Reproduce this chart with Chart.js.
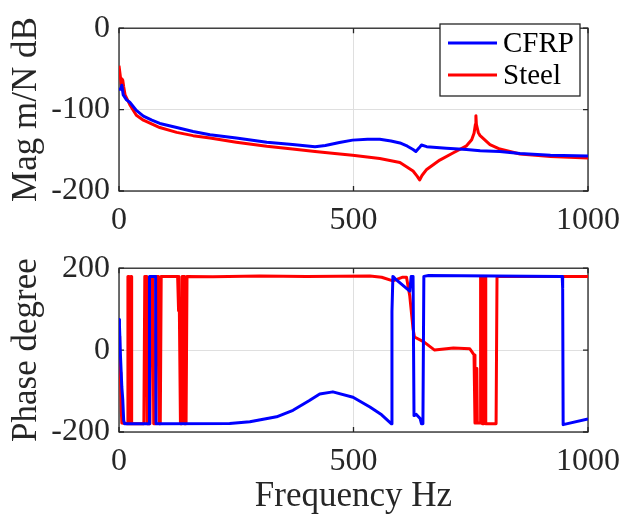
<!DOCTYPE html>
<html>
<head>
<meta charset="utf-8">
<script src="https://cdn.jsdelivr.net/npm/chart.js@4.4.1/dist/chart.umd.min.js"></script>
<style>
  body { margin: 0; background: #fff; }
  canvas { display: block; }
  #warm { height: 0; overflow: hidden; font: 32px 'Liberation Serif'; color: #fff; }
</style>
</head>
<body>
<div id="warm">Mag m/N dB Phase degree Frequency Hz CFRP Steel -200 0 500 1000</div>
<canvas id="mag" width="640" height="240"></canvas>
<canvas id="phase" width="640" height="278"></canvas>
<script>
// Frequency response of the two shafts.
const seriesNames = ['CFRP', 'Steel'];

const freqTicks = [0, 500, 1000];
const magTicks = [-200, -100, 0];
const phaseTicks = [-200, 0, 200];

// magnitude, dB
const cfrpMagHz = [0, 4, 6, 9, 16, 23, 37, 52, 70, 87, 123, 158, 194, 250, 315, 370, 418, 440, 470, 498,
  530, 556, 580, 599, 615, 627, 633, 640, 645, 656, 698, 741, 770, 812, 855, 920, 1000];
const cfrpMagDb = [-75, -75, -70, -82, -88, -91, -101, -108, -113, -117, -122, -127, -131, -135, -140, -143, -145.5, -144, -140.5, -137.5,
  -136.5, -136.5, -138.5, -141, -145, -149, -151.5, -147, -143.5, -145.5, -147.5, -149, -150.5, -151.5, -154, -156, -157];

const steelMagHz = [0, 3, 5, 6, 8, 10, 13, 23, 37, 52, 87, 123, 158, 194, 250, 315, 370, 418, 460, 498,
  556, 599, 627, 636, 641, 646, 656, 684, 713, 741, 752, 757, 760, 761, 762, 766, 770, 791, 812, 855,
  920, 1000];
const steelMagDb = [-46, -60, -70, -62, -64, -72, -82, -94, -107, -113, -122, -128, -132, -135, -140, -145, -148.5, -151.5, -154, -156,
  -160, -165, -175.5, -182, -186.5, -181, -173.5, -162, -153, -144.5, -137, -129, -118, -107.5, -118, -128, -132, -143, -148.5, -154.5,
  -157.5, -159.5];

// phase, degree
const cfrpPhaseHz = [0, 1, 3, 6, 8, 10, 12, 64, 65, 78, 79, 236, 279, 336, 371, 406, 428, 456, 499, 535,
  560, 581, 582, 584, 589, 620, 623, 627, 629, 634, 642, 645, 648, 650, 660, 945, 946, 947, 1000];
const cfrpPhaseDeg = [75, 60, -10, -90, -120, -172, -180, -180, 180, 180, -180, -179, -175, -163, -147, -123, -107, -102, -115, -139,
  -158, -180, 95, 180, 174, 144, 180, 180, -160, -157, -167, -180, -180, 180, 182, 180, 150, -182, -168];

const steelPhaseHz = [
  0, 1, 2, 3, 4, 5, 6, 18, 19, 21,
  22, 24, 25, 26, 27, 53, 55, 59, 60, 66,
  68, 72, 74, 78, 80, 84, 86, 88, 90, 125,
  127, 128, 130, 131, 134, 135, 139, 140, 143, 145,
  200, 300, 400, 535, 560, 584, 605, 613, 620, 627,
  630, 650, 673, 713, 748, 753, 757, 759, 762, 763,
  764, 770, 771, 774, 775, 778, 779, 781, 782, 804,
  806, 1000];
const steelPhaseDeg = [
  34, 10, -20, -55, -100, -150, -178, -180, 180, 180,
  -180, -180, 180, 180, -180, -180, 180, 180, -180, -180,
  180, 180, -180, -180, 180, 180, -180, -180, 180, 180,
  96, 180, 180, -180, -180, 180, 180, -180, -180, 180,
  179, 181, 180, 181, 178, 169, 178, 178, 132, 52,
  32, 20, 0, 5, 3, -5, -12, -178, -178, -45,
  -178, -178, 180, 180, -180, -180, 180, 180, -180, -180,
  180, 180];

const axisColor = '#262626';
const gridColor = '#dfdfdf';
const fontFamily = "'Liberation Serif'";
const lineColors = ['#0000ff', '#ff0000'];

const toPoints = (xs, ys) => xs.map((x, i) => ({ x, y: ys[i] }));

// MATLAB-style closed box with short inward ticks, drawn under the data
const boxAxes = {
  id: 'boxAxes',
  beforeDatasetsDraw(chart) {
    const { ctx, chartArea: a, scales } = chart;
    const len = 5;
    ctx.save();
    ctx.strokeStyle = axisColor;
    ctx.lineWidth = 1.3;
    ctx.beginPath();
    scales.x.ticks.forEach((t) => {
      const px = scales.x.getPixelForValue(t.value);
      ctx.moveTo(px, a.bottom); ctx.lineTo(px, a.bottom - len);
      ctx.moveTo(px, a.top); ctx.lineTo(px, a.top + len);
    });
    scales.y.ticks.forEach((t) => {
      const py = scales.y.getPixelForValue(t.value);
      ctx.moveTo(a.left, py); ctx.lineTo(a.left + len, py);
      ctx.moveTo(a.right, py); ctx.lineTo(a.right - len, py);
    });
    ctx.stroke();
    ctx.strokeRect(a.left, a.top, a.right - a.left, a.bottom - a.top);
    ctx.restore();
  },
};

// boxed legend in the upper right corner of the axes
const boxLegend = {
  id: 'boxLegend',
  afterDraw(chart, args, opts) {
    if (!opts.show) return;
    const { ctx } = chart;
    ctx.save();
    ctx.fillStyle = '#fff';
    ctx.fillRect(opts.left, opts.top, opts.width, opts.height);
    ctx.strokeStyle = axisColor;
    ctx.lineWidth = 1.3;
    ctx.strokeRect(opts.left, opts.top, opts.width, opts.height);
    ctx.font = "29px 'Liberation Serif'";
    ctx.textBaseline = 'middle';
    chart.data.datasets.forEach((ds, i) => {
      const y = opts.top + opts.firstRow + i * opts.rowGap;
      ctx.strokeStyle = ds.borderColor;
      ctx.lineWidth = ds.borderWidth;
      ctx.beginPath();
      ctx.moveTo(opts.left + 8, y);
      ctx.lineTo(opts.left + 57, y);
      ctx.stroke();
      ctx.fillStyle = '#000';
      ctx.fillText(ds.label, opts.left + 63, y + 1);
    });
    ctx.restore();
  },
};

function panel(canvasId, { series, yTicks, yTitle, xTitle, padTop, xHeight, legend }) {
  return new Chart(document.getElementById(canvasId), {
    type: 'line',
    plugins: [boxAxes, boxLegend],
    data: {
      datasets: series.map((pts, i) => ({
        label: seriesNames[i],
        data: pts,
        borderColor: lineColors[i],
        borderWidth: 3,
        pointRadius: 0,
        tension: 0,
        borderJoinStyle: 'round',
      })),
    },
    options: {
      responsive: false,
      animation: false,
      events: [],
      layout: { padding: { top: padTop, right: 52, left: 0, bottom: 0 } },
      scales: {
        x: {
          type: 'linear',
          min: 0,
          max: 1000,
          afterBuildTicks: (s) => { s.ticks = freqTicks.map((v) => ({ value: v })); },
          afterFit: (s) => { s.height = xHeight; },
          border: { display: false },
          grid: { color: gridColor, drawTicks: false },
          ticks: {
            color: axisColor,
            font: { family: fontFamily, size: 32 },
            padding: 10,
            maxRotation: 0,
            autoSkip: false,
            callback: (v) => String(v),
          },
          title: {
            display: !!xTitle,
            text: xTitle || '',
            color: axisColor,
            font: { family: fontFamily, size: 35 },
            padding: { top: 0, bottom: 0 },
          },
        },
        y: {
          min: yTicks[0],
          max: yTicks[yTicks.length - 1],
          afterBuildTicks: (s) => { s.ticks = yTicks.map((v) => ({ value: v })); },
          afterFit: (s) => { s.width = 119; },
          border: { display: false },
          grid: { color: gridColor, drawTicks: false },
          ticks: {
            color: axisColor,
            font: { family: fontFamily, size: 32 },
            padding: 9,
            callback: (v) => String(v),
          },
          title: {
            display: true,
            text: yTitle,
            color: axisColor,
            font: { family: fontFamily, size: 35 },
            padding: { top: 6, bottom: 0 },
          },
        },
      },
      plugins: {
        legend: { display: false },
        tooltip: { enabled: false },
        boxLegend: legend
          ? { show: true, left: 440, top: 24, width: 140, height: 72, firstRow: 19, rowGap: 32 }
          : { show: false },
      },
    },
  });
}

panel('mag', {
  series: [toPoints(cfrpMagHz, cfrpMagDb), toPoints(steelMagHz, steelMagDb)],
  yTicks: magTicks,
  yTitle: 'Mag m/N dB',
  padTop: 20,
  xHeight: 49,
  legend: true,
});

panel('phase', {
  series: [toPoints(cfrpPhaseHz, cfrpPhaseDeg), toPoints(steelPhaseHz, steelPhaseDeg)],
  yTicks: phaseTicks,
  yTitle: 'Phase degree',
  xTitle: 'Frequency Hz',
  padTop: 25,
  xHeight: 86,
  legend: false,
});
</script>
</body>
</html>
